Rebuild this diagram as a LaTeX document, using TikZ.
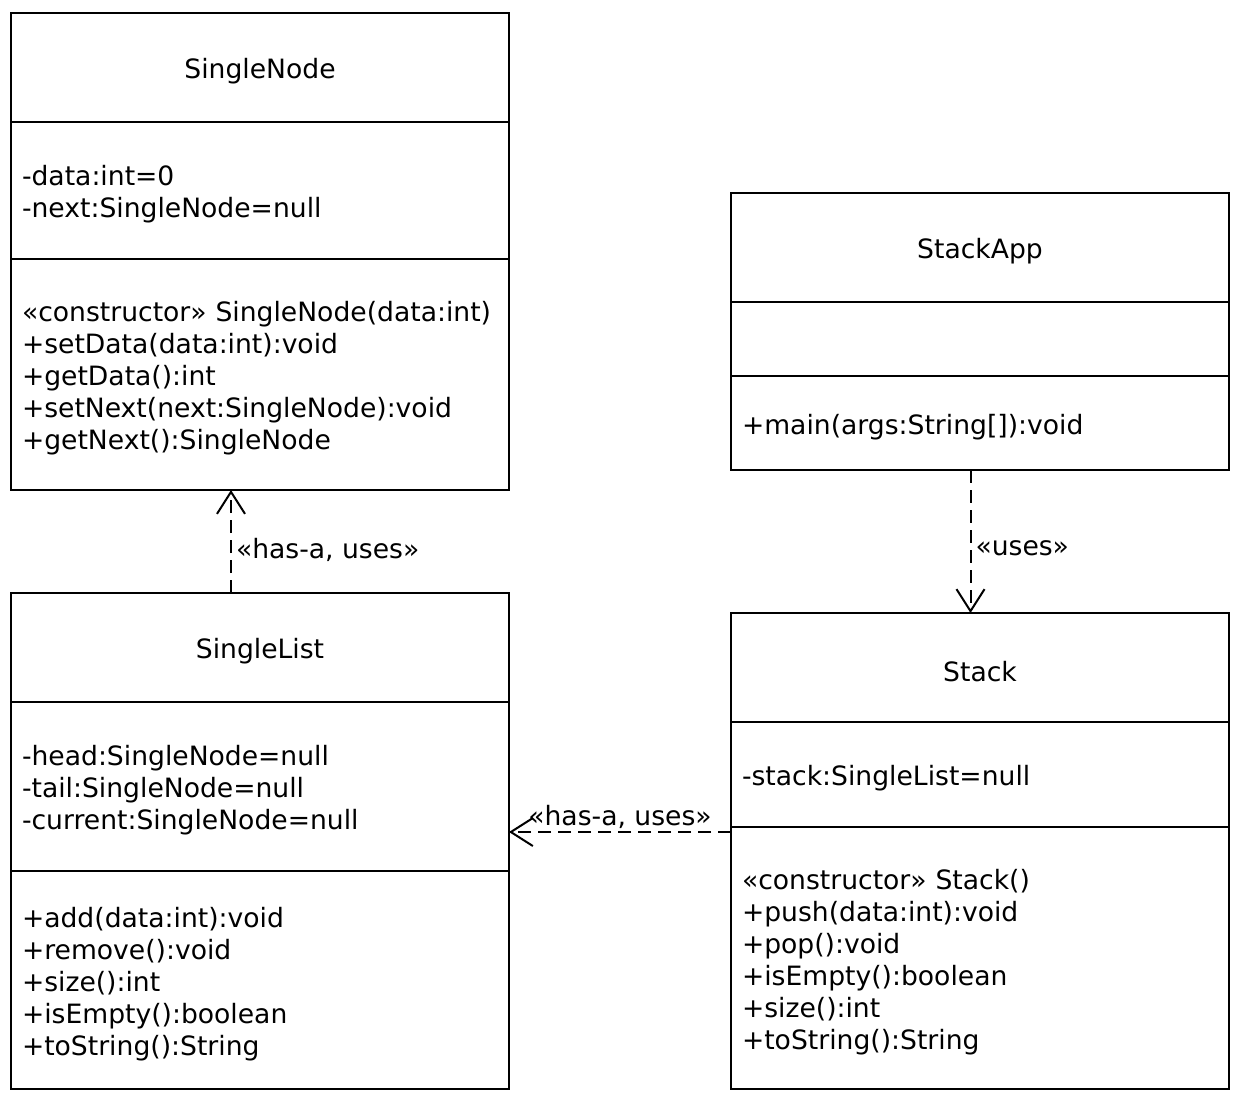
\documentclass[tikz,border=0pt]{standalone}
\usepackage{fontspec}
\setmainfont{DejaVu Sans}
\usetikzlibrary{positioning,arrows.meta}

\begin{document}
\begin{tikzpicture}[x=0.5pt,y=-0.5pt,line width=1pt,
    every node/.style={font=\fontsize{13.3}{16}\selectfont},
    umlpart/.style={draw, outer sep=0pt, inner xsep=5.5pt, inner ysep=0pt,
        text width=238pt, minimum width=249pt, align=left,
        execute at begin node={\rule{0pt}{14pt}}},
    umlname/.style={umlpart, align=center, minimum height=54.5pt},
    uses/.style={dash pattern=on 6.5pt off 3.5pt, -{Straight Barb[length=11pt,width=14pt]}},
    usetext/.style={draw=none, inner sep=2pt}]
    \useasboundingbox (0,0) rectangle (1246,1108);

    \node[umlname, anchor=north west] (sn-title) at (11,13) {SingleNode};
    \node[umlpart, minimum height=68.5pt, below=0pt of sn-title] (sn-attr)
        {-data:int=0\\-next:SingleNode=null};
    \node[umlpart, minimum height=115.5pt, below=0pt of sn-attr] (sn-meth)
        {«constructor» SingleNode(data:int)\\+setData(data:int):void\\+getData():int\\+setNext(next:SingleNode):void\\+getNext():SingleNode};

    \node[umlname, anchor=north west] (sl-title) at (11,593) {SingleList};
    \node[umlpart, minimum height=84.5pt, below=0pt of sl-title] (sl-attr)
        {-head:SingleNode=null\\-tail:SingleNode=null\\-current:SingleNode=null};
    \node[umlpart, minimum height=109pt, below=0pt of sl-attr] (sl-meth)
        {+add(data:int):void\\+remove():void\\+size():int\\+isEmpty():boolean\\+toString():String};

    \node[umlname, anchor=north west] (sa-title) at (731,193) {StackApp};
    \node[umlpart, minimum height=37pt, below=0pt of sa-title] (sa-attr) {};
    \node[umlpart, minimum height=47pt, below=0pt of sa-attr] (sa-meth)
        {+main(args:String[]):void};

    \node[umlname, anchor=north west] (st-title) at (731,613) {Stack};
    \node[umlpart, minimum height=52.5pt, below=0pt of st-title] (st-attr)
        {-stack:SingleList=null};
    \node[umlpart, minimum height=131pt, below=0pt of st-attr] (st-meth)
        {«constructor» Stack()\\+push(data:int):void\\+pop():void\\+isEmpty():boolean\\+size():int\\+toString():String};

    \draw[uses] ([xshift=-14.5pt]sl-title.north) -- ([xshift=-14.5pt]sn-meth.south)
        node[usetext, right, pos=0.42] {«has-a, uses»};
    \draw[uses] ([xshift=-4.75pt]sa-meth.south) -- ([xshift=-4.75pt]st-title.north)
        node[usetext, right, pos=0.55] {«uses»};
    \coordinate (st-port) at ([yshift=-2.5pt]st-meth.north west);
    \draw[uses] (st-port) -- (st-port -| sl-attr.east)
        node[usetext, above, pos=0.5, inner sep=1pt] {«has-a, uses»};
\end{tikzpicture}
\end{document}
